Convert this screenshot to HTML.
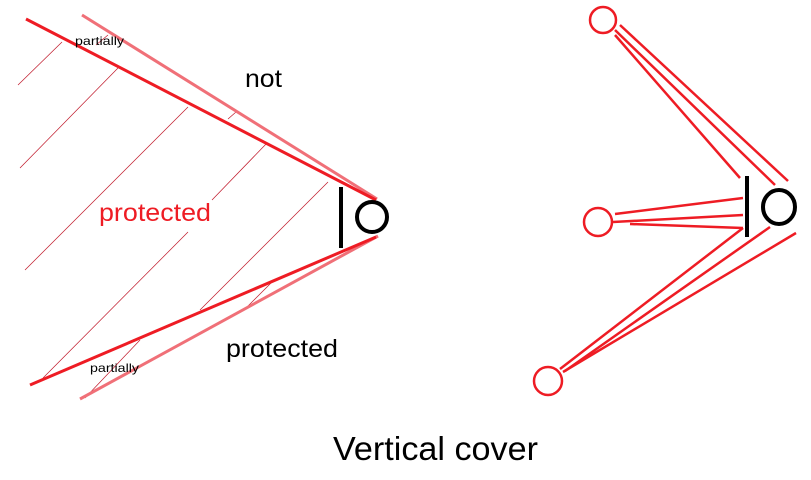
<!DOCTYPE html>
<html><head><style>body{margin:0;background:#fff}svg{display:block}</style></head><body>
<svg width="811" height="480" viewBox="0 0 811 480" xmlns="http://www.w3.org/2000/svg">
<g stroke="#c0182a" stroke-width="0.7">
<line x1="18" y1="85" x2="62" y2="42"/>
<line x1="20" y1="168" x2="118" y2="68"/>
<line x1="25" y1="270" x2="188" y2="107"/>
<line x1="43" y1="378" x2="188" y2="232"/>
<line x1="212" y1="200" x2="267" y2="143"/>
<line x1="200" y1="310" x2="328" y2="182"/>
<line x1="228" y1="119" x2="236" y2="112"/>
<line x1="247" y1="307" x2="272" y2="282"/>
<line x1="85" y1="398" x2="140" y2="340"/>
<line x1="96" y1="45" x2="108" y2="35"/>
</g>
<g stroke-width="3" fill="none">
<line x1="82" y1="15" x2="377" y2="199" stroke="#f07078"/>
<line x1="80" y1="399" x2="378" y2="236" stroke="#f07078"/>
<line x1="26" y1="19" x2="376" y2="200" stroke="#ee1c24"/>
<line x1="30" y1="385" x2="376" y2="237" stroke="#ee1c24"/>
</g>
<line x1="341" y1="187" x2="341" y2="248" stroke="#000" stroke-width="4"/>
<circle cx="372" cy="217" r="15" fill="none" stroke="#000" stroke-width="4"/>
<g font-family="Liberation Sans, sans-serif">
<text x="75" y="45" font-size="12" textLength="49" lengthAdjust="spacingAndGlyphs">partially</text>
<text x="90" y="372" font-size="12" textLength="49" lengthAdjust="spacingAndGlyphs">partially</text>
<text x="245" y="87" font-size="25" textLength="37" lengthAdjust="spacingAndGlyphs">not</text>
<text x="99" y="221" font-size="25" fill="#ee1c24" textLength="112" lengthAdjust="spacingAndGlyphs">protected</text>
<text x="226" y="357" font-size="25" textLength="112" lengthAdjust="spacingAndGlyphs">protected</text>
<text x="333" y="460" font-size="33" textLength="205" lengthAdjust="spacingAndGlyphs">Vertical cover</text>
</g>
<g stroke="#ee1c24" stroke-width="2.5" fill="none">
<circle cx="603" cy="20" r="13"/>
<circle cx="598" cy="222" r="14"/>
<circle cx="548" cy="381" r="14"/>
<line x1="620" y1="25" x2="788" y2="181"/>
<line x1="615" y1="30" x2="775" y2="185"/>
<line x1="615" y1="35" x2="740" y2="178"/>
<line x1="615" y1="214" x2="743" y2="198"/>
<line x1="613" y1="222" x2="743" y2="215"/>
<line x1="630" y1="224" x2="743" y2="228"/>
<line x1="560" y1="369" x2="743" y2="228"/>
<line x1="565" y1="371" x2="770" y2="227"/>
<line x1="563" y1="372" x2="796" y2="233"/>
</g>
<line x1="747" y1="176" x2="747" y2="237" stroke="#000" stroke-width="4"/>
<ellipse cx="779" cy="207" rx="16" ry="17" fill="none" stroke="#000" stroke-width="4"/>
</svg>
</body></html>
